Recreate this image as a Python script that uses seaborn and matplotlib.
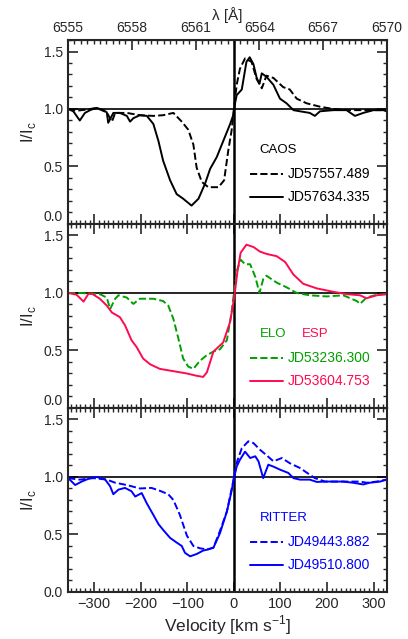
import numpy as np
import pandas as pd
import matplotlib
matplotlib.use('Agg')
import matplotlib.pyplot as plt
import seaborn as sns
from matplotlib.ticker import MultipleLocator, FixedLocator, FormatStrFormatter

# velocity grids (km/s) and normalized flux
caos_v1 = [-356, -338, -316, -295, -273, -262, -255, -230, -202, -173, -152, -130, -112, -98, -87,
           -80, -69, -55, -33, -21, -12, -5, 0, 6, 13, 24, 38, 49, 60, 70, 85, 106, 120, 135, 156,
           185, 214, 249, 285, 328]
caos_f1 = [1.0, 0.985, 0.995, 1.01, 0.97, 0.89, 0.966, 0.966, 0.946, 0.94, 0.946, 0.966, 0.89, 0.82,
           0.69, 0.49, 0.366, 0.32, 0.32, 0.38, 0.64, 0.81, 1.0, 1.21, 1.35, 1.44, 1.41, 1.26, 1.18,
           1.29, 1.27, 1.19, 1.17, 1.09, 1.05, 1.02, 1.0, 0.99, 0.99, 0.99]
caos_v2 = [-356, -345, -331, -320, -309, -295, -280, -273, -270, -259, -245, -230, -223, -216, -202,
           -187, -173, -162, -152, -137, -123, -109, -91, -76, -62, -51, -37, -23, -8, -1, 2, 6, 17,
           27, 34, 42, 49, 55, 60, 70, 85, 99, 113, 128, 142, 163, 174, 185, 214, 242, 260, 278,
           300, 321, 328]
caos_f2 = [1.0, 0.98, 0.90, 0.966, 0.99, 1.01, 0.99, 0.97, 0.88, 0.966, 0.966, 0.94, 0.89, 0.92,
           0.946, 0.94, 0.87, 0.72, 0.55, 0.38, 0.26, 0.22, 0.16, 0.22, 0.35, 0.48, 0.58, 0.72, 0.87,
           0.95, 1.04, 1.12, 1.17, 1.41, 1.45, 1.39, 1.27, 1.22, 1.31, 1.28, 1.21, 1.09, 1.05, 0.99,
           0.98, 0.966, 0.94, 0.98, 0.99, 0.99, 0.94, 0.966, 0.99, 0.99, 0.98]

elo_v = [-356, -331, -288, -273, -266, -255, -248, -230, -216, -202, -173, -152, -141, -130, -119,
         -109, -98, -87, -73, -58, -44, -30, -15, -5, 0, 7, 14.5, 24, 35, 46, 55, 63, 70, 92, 113,
         135, 163, 199, 235, 264, 271, 285, 307, 328]
elo_f = [1.0, 1.0, 0.99, 0.96, 0.86, 0.95, 0.98, 0.96, 0.905, 0.95, 0.95, 0.93, 0.89, 0.775, 0.60,
         0.43, 0.36, 0.34, 0.41, 0.46, 0.49, 0.51, 0.59, 0.83, 1.0, 1.2, 1.29, 1.25, 1.25, 1.14, 1.0,
         1.12, 1.15, 1.09, 1.05, 1.0, 0.98, 0.97, 0.98, 0.93, 0.905, 0.96, 0.985, 0.99]
esp_v = [-356, -338, -323, -313, -305, -288, -273, -262, -245, -234, -220, -209, -195, -180, -159,
         -130, -101, -80, -66, -58, -44, -23, -8, -1, 2, 7.4, 14.5, 27, 42, 56, 70, 92, 110, 128,
         149, 178, 214, 242, 271, 285, 307, 328]
esp_f = [1.0, 0.985, 0.925, 0.99, 0.994, 0.95, 0.89, 0.83, 0.79, 0.72, 0.59, 0.53, 0.43, 0.38, 0.34,
         0.32, 0.30, 0.28, 0.27, 0.31, 0.49, 0.57, 0.75, 0.92, 1.0, 1.18, 1.35, 1.42, 1.40, 1.36,
         1.34, 1.32, 1.27, 1.16, 1.08, 1.04, 1.01, 0.99, 0.98, 0.954, 0.98, 0.99]

rit_v1 = [-356, -331, -302, -273, -255, -230, -202, -177, -159, -141, -130, -116, -101, -87, -73,
          -58, -44, -30, -15, 0, 7, 17, 31, 42, 56, 70, 85, 103, 120, 142, 163, 174, 196, 235, 271,
          285, 307, 328]
rit_f1 = [0.99, 0.977, 0.99, 0.977, 0.95, 0.93, 0.90, 0.905, 0.88, 0.85, 0.80, 0.67, 0.49, 0.40, 0.38,
          0.37, 0.385, 0.53, 0.70, 0.99, 1.136, 1.25, 1.31, 1.295, 1.237, 1.19, 1.136, 1.165, 1.12,
          1.078, 1.02, 0.99, 0.96, 0.96, 0.96, 0.95, 0.96, 0.977]
rit_v2 = [-356, -341, -327, -309, -295, -277, -266, -259, -248, -234, -220, -212, -198, -187, -173,
          -162, -152, -137, -123, -112, -105, -94, -80, -66, -55, -44, -30, -15, -5, 0, 6, 13, 24,
          35, 46, 53, 63, 74, 85, 99, 117, 128, 142, 163, 178, 199, 235, 256, 278, 292, 314, 328]
rit_f2 = [0.99, 0.93, 0.96, 0.99, 1.0, 0.98, 0.92, 0.85, 0.89, 0.905, 0.876, 0.83, 0.86, 0.77, 0.67,
          0.59, 0.54, 0.47, 0.43, 0.40, 0.34, 0.31, 0.33, 0.36, 0.37, 0.385, 0.51, 0.70, 0.876, 0.99,
          1.09, 1.15, 1.22, 1.165, 1.18, 1.135, 0.99, 1.107, 1.09, 1.064, 1.035, 0.99, 0.977, 0.977,
          0.957, 0.96, 0.96, 0.95, 0.935, 0.95, 0.96, 0.977]

lam_ticks = [6555, 6558, 6561, 6564, 6567, 6570]

panels = [
    {'title': ['CAOS'], 'tcol': ['black'],
     'series': [(caos_v1, caos_f1, 'JD57557.489', 'black', '--'),
                (caos_v2, caos_f2, 'JD57634.335', 'black', '-')]},
    {'title': ['ELO', 'ESP'], 'tcol': ['#00a000', '#ff0a50'],
     'series': [(elo_v, elo_f, 'JD53236.300', '#00a000', '--'),
                (esp_v, esp_f, 'JD53604.753', '#ff0a50', '-')]},
    {'title': ['RITTER'], 'tcol': ['#0000ff'],
     'series': [(rit_v1, rit_f1, 'JD49443.882', '#0000ff', '--'),
                (rit_v2, rit_f2, 'JD49510.800', '#0000ff', '-')]},
]

LAM0 = 6562.8
C = 299792.458
xmin = (6555 / LAM0 - 1) * C - 0.05
xmax = (6570 / LAM0 - 1) * C + 0.05

sns.set_style('ticks')
plt.rcParams['font.family'] = ['Liberation Sans', 'DejaVu Sans']
plt.rcParams['mathtext.fontset'] = 'custom'
plt.rcParams['mathtext.rm'] = 'Liberation Sans'

fig, axes = plt.subplots(3, 1, figsize=(4.08, 6.39), dpi=100, sharex=True)
fig.subplots_adjust(left=0.1667, right=0.9485, top=0.9374, bottom=0.0736, hspace=0)

for i, (ax, p) in enumerate(zip(axes, panels)):
    for v, f, lab, col, ls in p['series']:
        df = pd.DataFrame({'v': v, 'f': f})
        sns.lineplot(data=df, x='v', y='f', ax=ax, color=col, linestyle=ls,
                     linewidth=1.4, estimator=None, sort=False)
    ax.axhline(1.0, color='black', lw=1.2, zorder=1)
    ax.axvline(0.0, color='black', lw=1.8, zorder=1)
    ax.set_xlim(xmin, xmax)
    ax.set_ylim(0, 1.6)
    ax.yaxis.set_major_locator(FixedLocator([0.0, 0.5, 1.0, 1.5]))
    ax.yaxis.set_minor_locator(MultipleLocator(0.1))
    ax.yaxis.set_major_formatter(FormatStrFormatter('%.1f'))
    ax.xaxis.set_major_locator(MultipleLocator(100))
    ax.xaxis.set_minor_locator(MultipleLocator(10))
    ax.tick_params(which='both', direction='in', right=True, top=(i > 0))
    ax.tick_params(axis='y', labelsize=10)
    ax.tick_params(axis='x', labelsize=10.5)
    ax.tick_params(which='major', length=7, width=1.2)
    ax.tick_params(which='minor', length=3, width=1)
    for s in ax.spines.values():
        s.set_linewidth(1.5)
    ax.set_ylabel(r'I/I$_{\rm c}$', fontsize=12, labelpad=4)
    ax.set_xlabel('')

    # legend-like annotations
    xs = [0.60, 0.733]
    for t, c, x in zip(p['title'], p['tcol'], xs):
        ax.text(x, 0.40, t, color=c, transform=ax.transAxes, fontsize=9.5, va='center')
    for j, (v, f, lab, col, ls) in enumerate(p['series']):
        yy = 0.27 - j * 0.123
        ax.plot([0.57, 0.675], [yy, yy], transform=ax.transAxes, color=col, ls=ls, lw=1.4)
        ax.text(0.69, yy, lab, color=col, transform=ax.transAxes, fontsize=10, va='center')

axes[-1].set_xlabel(r'Velocity [km s$^{-1}$]', fontsize=12.5, labelpad=2)

top = axes[0].secondary_xaxis('top', functions=(lambda v: LAM0 * (1 + v / C),
                                                 lambda l: (l / LAM0 - 1) * C))
top.xaxis.set_major_locator(FixedLocator(lam_ticks))
top.xaxis.set_minor_locator(MultipleLocator(0.3))
top.tick_params(which='both', direction='in', labelsize=10)
top.tick_params(which='major', length=7, width=1.2)
top.tick_params(which='minor', length=3, width=1)
top.set_xlabel('λ [Å]', fontsize=11, labelpad=1)

# lift the 0.0 labels of the upper panels a little so they clear the 1.5 below
fig.canvas.draw()
for ax in axes[:2]:
    ax.yaxis.get_major_ticks()[0].label1.set_verticalalignment('bottom')

fig.savefig('out.png', dpi=100)
